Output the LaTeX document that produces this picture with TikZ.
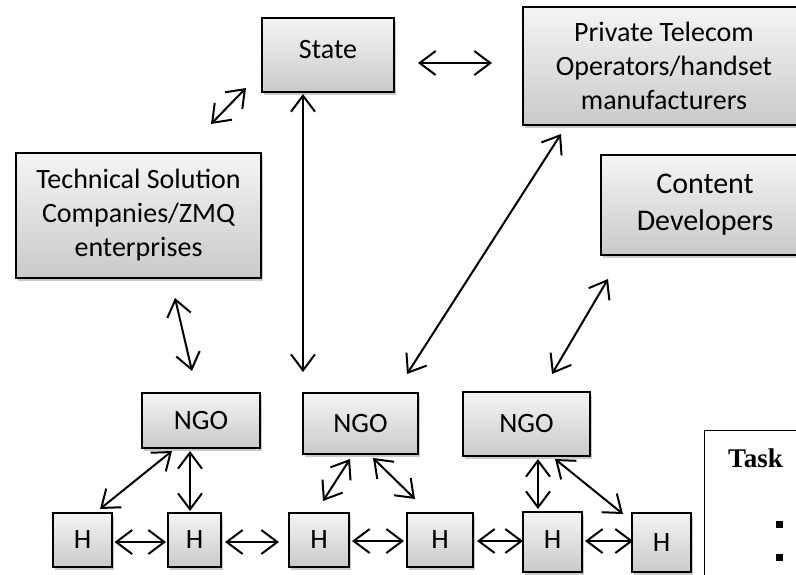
\documentclass[tikz,border=0pt]{standalone}
\usepackage{fontspec}
\setmainfont{Carlito}
\newfontfamily\taskfont{Liberation Serif}
\usetikzlibrary{arrows.meta,shadows}
\begin{document}
\begin{tikzpicture}[x=1pt,y=-1pt,
  box/.style={draw=black, line width=2pt, top color=gray!8, bottom color=gray!42,
    drop shadow={shadow xshift=2pt, shadow yshift=-3pt, opacity=0.35, fill=black!60},
    inner sep=0pt, align=center, font=\fontsize{28}{34}\selectfont, text=black},
  barb/.tip={Straight Barb[length=16pt,width=24pt]},
  link/.style={line width=2pt, barb-barb}]
\useasboundingbox (0,0) rectangle (796,574);
\clip (0,0) rectangle (796,574);

% actors
\node[box, minimum width=132pt, minimum height=74pt] (state) at (328,55) {\raisebox{12pt}{State}};
\node[box, minimum width=282pt, minimum height=118pt] (priv) at (664,66)
  {Private Telecom\\Operators/handset\\manufacturers};
\node[box, minimum width=208pt, minimum height=100pt, font=\fontsize{30}{37}\selectfont] (content) at (705,205)
  {Content\\Developers};
\node[box, minimum width=245pt, minimum height=125pt] (tech) at (138.5,215.5)
  {Technical Solution\\Companies/ZMQ\\enterprises};

% NGOs
\node[box, minimum width=118pt, minimum height=55pt] (ngo1) at (201,420.5) {NGO};
\node[box, minimum width=115pt, minimum height=61pt] (ngo2) at (360.5,423.5) {NGO};
\node[box, minimum width=127pt, minimum height=64pt] (ngo3) at (526.5,424) {NGO};

% households
\node[box, minimum width=59pt, minimum height=54pt] (h1) at (82.5,540) {H};
\node[box, minimum width=53pt, minimum height=54pt] (h2) at (194.5,540) {H};
\node[box, minimum width=60pt, minimum height=54pt] (h3) at (319,540) {H};
\node[box, minimum width=66pt, minimum height=54pt] (h4) at (440,540) {H};
\node[box, minimum width=59pt, minimum height=60pt] (h5) at (552.5,542) {\raisebox{4pt}{H}};
\node[box, minimum width=59pt, minimum height=59pt] (h6) at (661.5,542.5) {H};

% links between actors
\draw[link] ([shift={(23,8)}]state.east) -- ([shift={(-30,-3)}]priv.west);
\draw[link] ([shift={(-15,-5)}]state.south west) -- ([shift={(-51,-28)}]tech.north east);
\draw[link] ([shift={(-25,1)}]state.south) -- ([shift={(-57.5,-20)}]ngo2.north);
\draw[link] ([shift={(46.5,-18)}]ngo2.north) -- ([shift={(39,8)}]priv.south west);
\draw[link] ([shift={(25.5,-17)}]ngo3.north) -- ([shift={(8,23)}]content.south west);
\draw[link] ([shift={(36.5,19)}]tech.south) -- ([shift={(-9,-21)}]ngo1.north);

% NGO to households
\draw[link] ([shift={(-29,2)}]ngo1.south) -- ([shift={(17.5,-3)}]h1.north);
\draw[link] ([shift={(-11,2)}]ngo1.south) -- ([shift={(-4.5,-1)}]h2.north);
\draw[link] ([shift={(-10.5,4)}]ngo2.south) -- ([shift={(4,-11)}]h3.north);
\draw[link] ([shift={(12.5,3)}]ngo2.south) -- ([shift={(-25,-13)}]h4.north);
\draw[link] ([shift={(11.5,2)}]ngo3.south) -- ([shift={(-14.5,-2)}]h5.north);
\draw[link] ([shift={(28.5,2)}]ngo3.south) -- ([shift={(-38.5,2)}]h6.north);

% households to households
\draw[link] ([shift={(1.5,2)}]h1.east) -- ([shift={(-1,2)}]h2.west);
\draw[link] ([shift={(3,2)}]h2.east) -- ([shift={(-9,2)}]h3.west);
\draw[link] ([shift={(2,1)}]h3.east) -- ([shift={(-2,1)}]h4.west);
\draw[link] ([shift={(3,1)}]h4.east) -- ([shift={(1,-1)}]h5.west);
\draw[link] ([shift={(2,-1)}]h5.east) -- ([shift={(2,-1.5)}]h6.west);

% task panel
\node[draw=black, line width=1.3pt, minimum width=120pt, minimum height=170pt, anchor=north west, inner sep=0pt] (task) at (704,430) {};
\node[anchor=base west, inner sep=0pt, font=\taskfont\bfseries\fontsize{27}{32}\selectfont] (tasktitle) at (728,467) {Task};
\fill ([shift={(72,91)}]task.north west) rectangle ++(7,7);
\fill ([shift={(72,124)}]task.north west) rectangle ++(7,7);
\end{tikzpicture}
\end{document}
